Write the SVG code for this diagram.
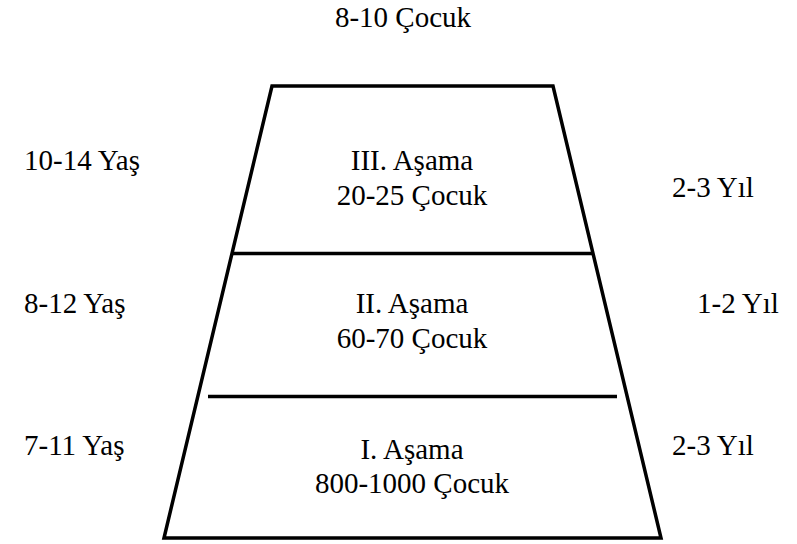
<svg xmlns="http://www.w3.org/2000/svg" width="797" height="544" viewBox="0 0 797 544">
<style>
text{font-family:"Liberation Serif","Times New Roman",serif;font-size:29px;fill:#000}
.c{text-anchor:middle}
.ln{stroke:#000;stroke-width:3.5;fill:none}
</style>
<rect width="797" height="544" fill="#fff"/>
<g id="pyramid">
<polygon class="ln" points="272,86 553,86 661,538 164,538" stroke-linejoin="miter"/>
</g>
<g id="connectors">
<line class="ln" x1="233" y1="253.5" x2="593" y2="253.5"/>
<line class="ln" x1="208" y1="396.5" x2="617" y2="396.5"/>
</g>
<g id="top"><text class="c" x="403" y="27">8-10 Çocuk</text></g>
<g id="stage3">
<text class="c" x="412" y="170">III. Aşama</text>
<text class="c" x="412" y="205">20-25 Çocuk</text>
<text x="24" y="170">10-14 Yaş</text>
<text x="672" y="197">2-3 Yıl</text>
</g>
<g id="stage2">
<text class="c" x="412" y="313">II. Aşama</text>
<text class="c" x="412" y="348">60-70 Çocuk</text>
<text x="24" y="313">8-12 Yaş</text>
<text x="697" y="313">1-2 Yıl</text>
</g>
<g id="stage1">
<text class="c" x="412" y="459">I. Aşama</text>
<text class="c" x="412" y="493">800-1000 Çocuk</text>
<text x="24" y="455">7-11 Yaş</text>
<text x="672" y="455">2-3 Yıl</text>
</g>
</svg>
